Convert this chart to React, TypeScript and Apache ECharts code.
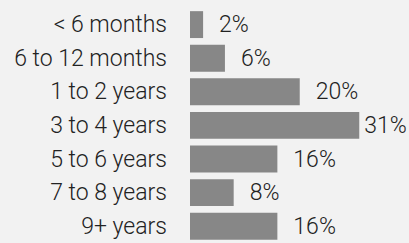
import React, { useEffect, useRef } from "react";
import * as echarts from "echarts";

const categories = ["< 6 months", "6 to 12 months", "1 to 2 years", "3 to 4 years", "5 to 6 years", "7 to 8 years", "9+ years"];
const values = [2.4, 6.4, 20.1, 31, 16, 8, 16];
const labels = ["2%", "6%", "20%", "31%", "16%", "8%", "16%"];

const FONT = "Roboto";
const TEXT = "#222222";

export default function App() {
  const ref = useRef<HTMLDivElement>(null);
  useEffect(() => {
    const chart = echarts.init(ref.current!, null, { renderer: "svg" });
    chart.setOption({
      animation: false,
      backgroundColor: "#f2f2f2",
      grid: { left: 190, top: 7.8, width: 218.4, height: 240.8, containLabel: false },
      xAxis: { type: "value", min: 0, max: 40, show: false },
      yAxis: {
        type: "category",
        data: categories,
        inverse: true,
        axisLine: { show: false },
        axisTick: { show: false },
        splitLine: { show: false },
        axisLabel: { fontFamily: FONT, fontWeight: 300, fontSize: 23, color: TEXT, margin: 23 },
      },
      series: [
        {
          type: "bar",
          barCategoryGap: "20%",
          itemStyle: { color: "#878787" },
          data: values.map((v, i) => ({
            value: v,
            label: i === 3 ? { distance: 5 } : undefined,
          })),
          label: {
            show: true,
            position: "right",
            distance: 16,
            fontFamily: FONT,
            fontWeight: 300,
            fontSize: 23,
            color: TEXT,
            formatter: (p: any) => labels[p.dataIndex],
          },
        },
      ],
    });
    return () => chart.dispose();
  }, []);
  return <div ref={ref} style={{ position: "fixed", left: 0, top: 0, width: 409, height: 243 }} />;
}
